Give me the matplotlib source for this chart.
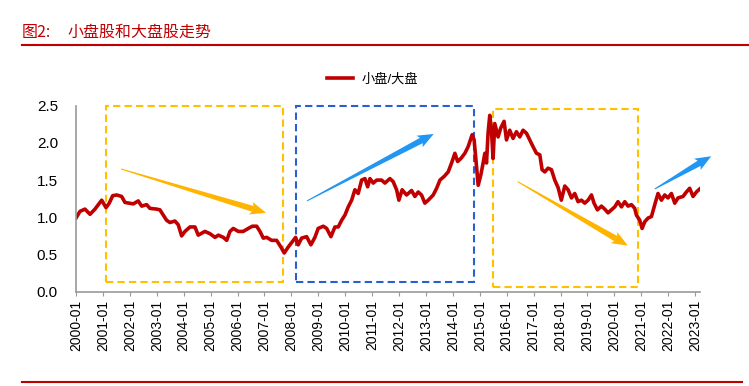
import matplotlib.pyplot as plt
import matplotlib.dates as mdates
from matplotlib.patches import Rectangle, Polygon
from matplotlib.lines import Line2D
from matplotlib.transforms import IdentityTransform
import numpy as np
import pandas as pd

plt.rcParams['font.family'] = ['Liberation Sans', 'Noto Sans CJK SC', 'DejaVu Sans']

# Série 小盘/大盘
datas = ['2000-01-01', '2000-02-24', '2000-05-01', '2000-07-09', '2000-09-14', '2000-10-29', '2000-12-14',
         '2001-01-06', '2001-02-11', '2001-03-27', '2001-05-12', '2001-07-06', '2001-09-11', '2001-10-26',
         '2001-12-23', '2002-02-16', '2002-04-24', '2002-06-10', '2002-08-16', '2002-09-30', '2002-12-30',
         '2003-02-12', '2003-03-29', '2003-05-14', '2003-06-28', '2003-09-04', '2003-10-19', '2003-12-04',
         '2004-01-18', '2004-03-26', '2004-06-02', '2004-07-16', '2004-10-15', '2004-12-22', '2005-03-01',
         '2005-04-15', '2005-06-22', '2005-08-07', '2005-09-20', '2005-11-04', '2006-01-11', '2006-03-19',
         '2006-05-26', '2006-07-20', '2006-09-17', '2006-11-01', '2006-12-16', '2007-01-31', '2007-04-08',
         '2007-06-15', '2007-08-12', '2007-09-26', '2007-11-19', '2008-01-13', '2008-02-28', '2008-04-03',
         '2008-05-19', '2008-07-26', '2008-09-22', '2008-11-15', '2008-12-30', '2009-03-09', '2009-04-24',
         '2009-06-21', '2009-08-14', '2009-09-28', '2009-11-13', '2009-12-28', '2010-02-11', '2010-03-29',
         '2010-05-12', '2010-06-26', '2010-08-11', '2010-09-25', '2010-11-01', '2010-12-02', '2011-01-16',
         '2011-03-03', '2011-05-09', '2011-06-23', '2011-08-30', '2011-10-13', '2011-11-29', '2011-12-30',
         '2012-02-12', '2012-04-12', '2012-06-19', '2012-08-03', '2012-09-17', '2012-11-01', '2012-12-16',
         '2013-01-31', '2013-04-09', '2013-05-25', '2013-07-09', '2013-09-05', '2013-10-29', '2013-12-14',
         '2014-01-28', '2014-03-06', '2014-04-19', '2014-06-12', '2014-07-27', '2014-09-19', '2014-10-16',
         '2014-11-18', '2014-12-10', '2015-01-15', '2015-02-15', '2015-03-10', '2015-04-02', '2015-04-23',
         '2015-05-16', '2015-06-08', '2015-06-30', '2015-07-23', '2015-09-06', '2015-10-12', '2015-11-26',
         '2015-12-29', '2016-02-11', '2016-03-27', '2016-05-12', '2016-06-26', '2016-08-10', '2016-09-25',
         '2016-11-08', '2016-12-23', '2017-02-08', '2017-03-25', '2017-04-25', '2017-06-01', '2017-07-15',
         '2017-08-30', '2017-10-14', '2017-11-28', '2018-01-11', '2018-02-27', '2018-04-13', '2018-05-29',
         '2018-07-12', '2018-08-26', '2018-10-11', '2018-11-25', '2019-01-09', '2019-02-24', '2019-03-31',
         '2019-05-16', '2019-07-09', '2019-08-23', '2019-10-07', '2019-11-22', '2020-01-06', '2020-02-19',
         '2020-04-06', '2020-05-21', '2020-07-05', '2020-08-20', '2020-10-03', '2020-10-26', '2020-12-10',
         '2021-01-11', '2021-02-16', '2021-04-02', '2021-05-18', '2021-07-02', '2021-08-15', '2021-09-30',
         '2021-11-14', '2021-12-29', '2022-02-13', '2022-03-30', '2022-05-13', '2022-07-20', '2022-09-04',
         '2022-10-19', '2022-12-03', '2023-01-18', '2023-03-03']
valores = [0.99, 1.08, 1.11, 1.04, 1.11, 1.17, 1.23,
           1.19, 1.13, 1.19, 1.29, 1.30, 1.28, 1.20,
           1.19, 1.18, 1.22, 1.15, 1.17, 1.12, 1.11,
           1.10, 1.03, 0.96, 0.93, 0.95, 0.90, 0.75,
           0.81, 0.87, 0.87, 0.76, 0.81, 0.78, 0.73,
           0.76, 0.73, 0.69, 0.81, 0.85, 0.81, 0.81,
           0.85, 0.88, 0.88, 0.81, 0.72, 0.73, 0.69,
           0.69, 0.60, 0.52, 0.60, 0.67, 0.73, 0.63,
           0.72, 0.74, 0.63, 0.73, 0.85, 0.88, 0.85,
           0.74, 0.87, 0.87, 0.96, 1.03, 1.14, 1.23,
           1.37, 1.32, 1.50, 1.52, 1.41, 1.52, 1.46,
           1.50, 1.50, 1.46, 1.52, 1.48, 1.37, 1.23,
           1.37, 1.30, 1.36, 1.28, 1.34, 1.30, 1.19,
           1.23, 1.30, 1.39, 1.50, 1.55, 1.61, 1.73,
           1.86, 1.75, 1.79, 1.86, 1.95, 2.11, 2.04,
           1.68, 1.43, 1.57, 1.73, 1.86, 1.73, 2.13,
           2.37, 2.17, 1.79, 2.26, 2.08, 2.20, 2.29,
           2.04, 2.17, 2.06, 2.15, 2.08, 2.17, 2.13,
           2.04, 1.95, 1.86, 1.84, 1.64, 1.61, 1.66,
           1.64, 1.50, 1.40, 1.23, 1.42, 1.37, 1.26,
           1.32, 1.21, 1.23, 1.19, 1.23, 1.30, 1.19,
           1.10, 1.15, 1.11, 1.06, 1.10, 1.14, 1.21,
           1.14, 1.21, 1.15, 1.17, 1.12, 1.03, 0.96,
           0.85, 0.94, 0.99, 1.01, 1.17, 1.32, 1.23,
           1.30, 1.26, 1.32, 1.19, 1.26, 1.28, 1.34,
           1.39, 1.28, 1.34, 1.38]

anos = [f'{a}-01' for a in range(2000, 2024)]
yticks = [0.0, 0.5, 1.0, 1.5, 2.0, 2.5]

# Caixas tracejadas
caixa_inicio = ['2001-02-10', '2008-03-10', '2015-07-01']
caixa_fim = ['2007-09-09', '2014-10-11', '2020-11-13']
caixa_base = [0.13, 0.13, 0.06]
caixa_topo = [2.5, 2.5, 2.46]
caixa_cor = ['#FFC000', '#2A5FD0', '#FFC000']

# Setas
seta_x0 = ['2001-09-01', '2008-07-30', '2016-05-28', '2021-07-01']
seta_y0 = [1.65, 1.22, 1.48, 1.38]
seta_x1 = ['2007-01-23', '2013-04-16', '2020-07-01', '2023-08-07']
seta_y1 = [1.06, 2.12, 0.62, 1.82]
seta_cor = ['#FFB400', '#2196F3', '#FFB400', '#2196F3']

vermelho = '#C00000'


def desenha_seta(ax, p0, p1, cor, haste=6.0, cabeca=13.0, comp=14.0):
    # seta afunilada: fina no início, larga perto da ponta (em pixels)
    a = ax.transData.transform(p0)
    b = ax.transData.transform(p1)
    u = (b - a) / np.hypot(*(b - a))
    n = np.array([-u[1], u[0]])
    base = b - u * comp
    pts = [a + n * 0.5, base + n * haste / 2, base + n * cabeca / 2 - u * 2, b,
           base - n * cabeca / 2 - u * 2, base - n * haste / 2, a - n * 0.5]
    ax.add_patch(Polygon(pts, closed=True, facecolor=cor, edgecolor='none',
                         transform=IdentityTransform(), clip_on=False))


fig = plt.figure(figsize=(7.49, 3.86), dpi=100)
ax = fig.add_axes([0.1015, 0.2443, 0.8335, 0.4819])

ax.plot(pd.to_datetime(datas), valores, color=vermelho, lw=2.6, label='小盘/大盘')

ax.set_xlim(pd.Timestamp('2000-01-01'), pd.Timestamp('2023-03-12'))
ax.set_ylim(0, 2.5)

for i in range(len(caixa_inicio)):
    x0 = mdates.date2num(pd.Timestamp(caixa_inicio[i]))
    x1 = mdates.date2num(pd.Timestamp(caixa_fim[i]))
    r = Rectangle((x0, caixa_base[i]), x1 - x0, caixa_topo[i] - caixa_base[i],
                  fill=False, edgecolor=caixa_cor[i], lw=1.5, ls=(0, (3.5, 2)), clip_on=False)
    ax.add_patch(r)

for i in range(len(seta_x0)):
    p0 = (mdates.date2num(pd.Timestamp(seta_x0[i])), seta_y0[i])
    p1 = (mdates.date2num(pd.Timestamp(seta_x1[i])), seta_y1[i])
    desenha_seta(ax, p0, p1, seta_cor[i])

ax.set_xticks(pd.to_datetime(anos))
ax.set_xticklabels(anos, rotation=90, fontsize=10)
ax.set_yticks(yticks)
ax.set_yticklabels([f'{v:.1f}' for v in yticks], fontsize=11)
ax.tick_params(axis='y', length=0, pad=13)
ax.tick_params(axis='x', length=3, color='#999999', pad=3)
for s in ['top', 'right']:
    ax.spines[s].set_visible(False)
for s in ['left', 'bottom']:
    ax.spines[s].set_color('#999999')
    ax.spines[s].set_linewidth(1.2)

fig.legend(loc='center', bbox_to_anchor=(0.497, 0.793), frameon=False, fontsize=9.5,
           handlelength=2.0, handletextpad=0.6)

# Título e linhas vermelhas
fig.text(22 / 749, 1 - 32 / 386, '图2:', color=vermelho, fontsize=11.5, va='center',
         family=['Noto Sans CJK SC', 'DejaVu Sans'])
fig.text(68 / 749, 1 - 32 / 386, '小盘股和大盘股走势', color=vermelho, fontsize=11.5, va='center',
         family=['Noto Sans CJK SC', 'DejaVu Sans'])
fig.add_artist(Line2D([22 / 749, 1], [1 - 45 / 386] * 2, color=vermelho, lw=1.5))
fig.add_artist(Line2D([22 / 749, 742 / 749], [1 - 382 / 386] * 2, color=vermelho, lw=1.5))

plt.savefig('out.png', dpi=100)
